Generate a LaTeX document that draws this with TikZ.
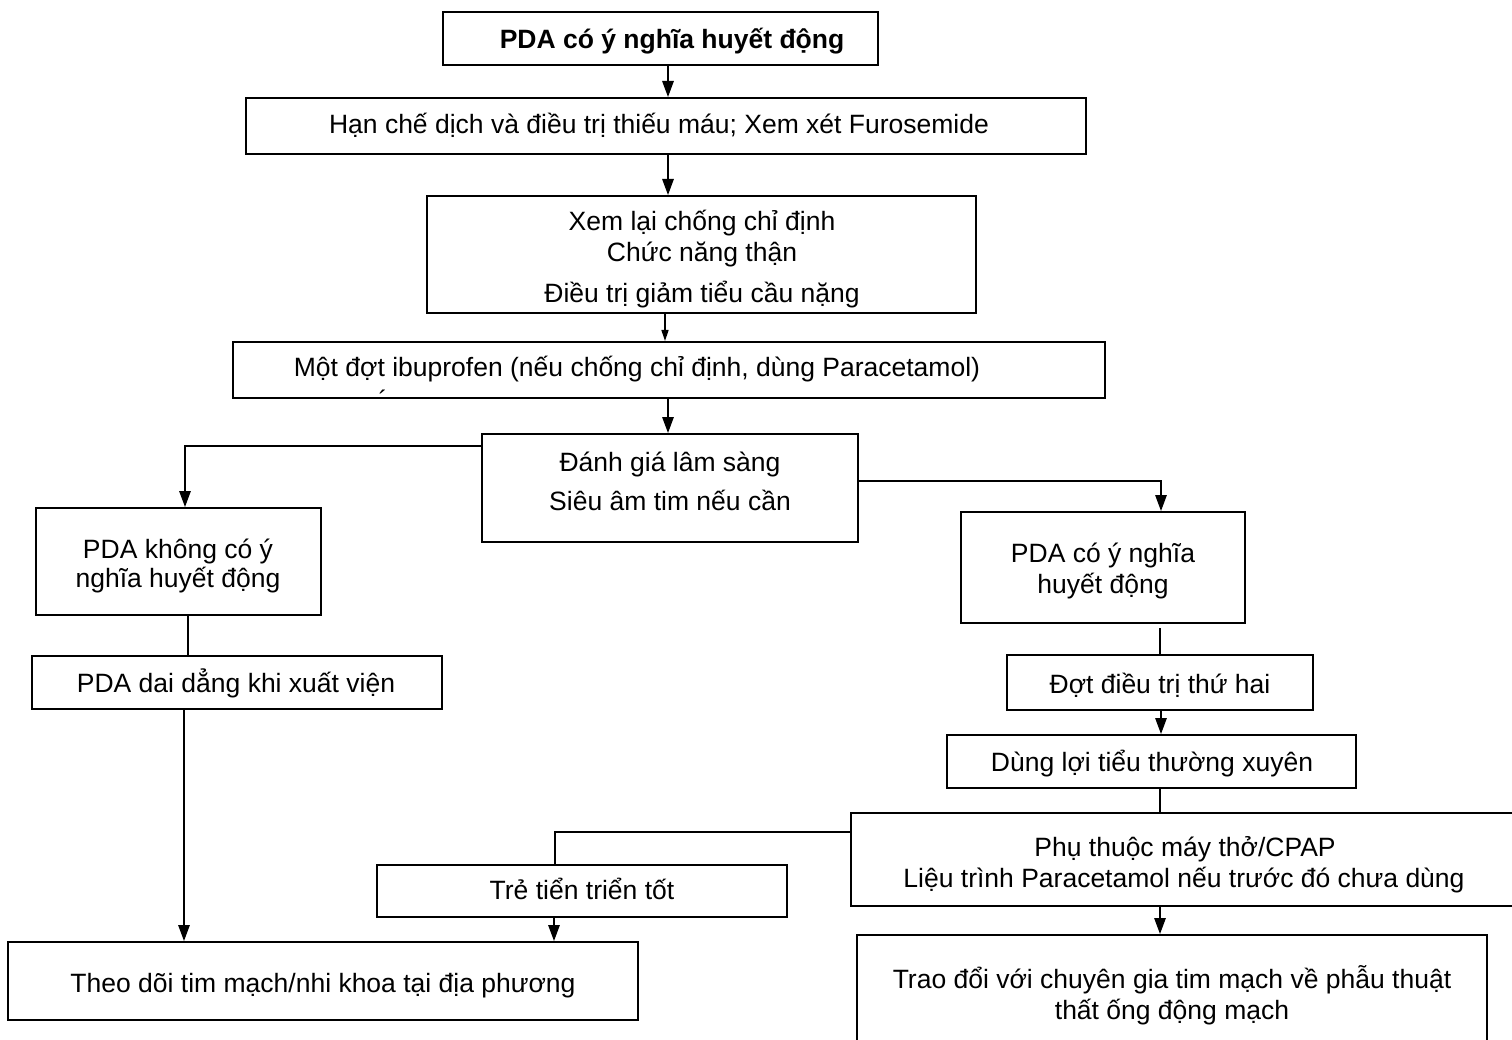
\documentclass[tikz,border=0pt]{standalone}
\usepackage{fontspec}
\setmainfont{Liberation Sans}
\usetikzlibrary{arrows.meta}
\begin{document}
\begin{tikzpicture}[x=1pt,y=-1pt,
  box/.style={draw=black, line width=2pt, inner sep=0pt},
  txt/.style={anchor=base, inner sep=0pt, font=\fontsize{26.5}{31}\selectfont},
  link/.style={line width=1.4pt},
  arr/.style={link, -{Triangle[length=16pt,width=11.5pt]}},
  arrsmall/.style={link, -{Triangle[length=11pt,width=7pt]}}]
\useasboundingbox[fill=white] (0,0) rectangle (1512,1040);

% boxes
\node[box, minimum width=435pt, minimum height=53pt]  (b1)  at (660.5,38.5) {};
\node[box, minimum width=840pt, minimum height=56pt]  (b2)  at (666,126) {};
\node[box, minimum width=549pt, minimum height=117pt] (b3)  at (701.5,254.5) {};
\node[box, minimum width=872pt, minimum height=56pt]  (b4)  at (669,370) {};
\node[box, minimum width=376pt, minimum height=108pt] (b5)  at (670,488) {};
\node[box, minimum width=285pt, minimum height=107pt] (b6)  at (178.5,561.5) {};
\node[box, minimum width=284pt, minimum height=111pt] (b7)  at (1103,567.5) {};
\node[box, minimum width=410pt, minimum height=53pt]  (b8)  at (237,682.5) {};
\node[box, minimum width=306pt, minimum height=55pt]  (b9)  at (1160,682.5) {};
\node[box, minimum width=409pt, minimum height=53pt]  (b10) at (1151.5,761.5) {};
\node[box, minimum width=679pt, minimum height=93pt]  (b11) at (1190.5,859.5) {};
\node[box, minimum width=410pt, minimum height=52pt]  (b12) at (582,891) {};
\node[box, minimum width=630pt, minimum height=78pt]  (b13) at (323,981) {};
\node[box, minimum width=630pt, minimum height=125pt] (b14) at (1172,997.5) {};

% texts
\node[txt, font=\fontsize{26.5}{31}\selectfont\bfseries] (t1) at (672,49) {PDA có ý nghĩa huyết động};
\node[txt] (t2)  at (659,134) {Hạn chế dịch và điều trị thiếu máu; Xem xét Furosemide};
\node[txt] (t3a) at (702,231) {Xem lại chống chỉ định};
\node[txt] (t3b) at (702,262) {Chức năng thận};
\node[txt] (t3c) at (702,303) {Điều trị giảm tiểu cầu nặng};
\node[txt] (t4)  at (637,377) {Một đợt ibuprofen (nếu chống chỉ định, dùng Paracetamol)};
\node[inner sep=0pt, anchor=north, font=\fontsize{26.5}{31}\selectfont] (t4acc) at (383,390) {´};
\node[txt] (t5a) at (670,471) {Đánh giá lâm sàng};
\node[txt] (t5b) at (670,510) {Siêu âm tim nếu cần};
\node[txt] (t6a) at (178,558) {PDA không có ý};
\node[txt] (t6b) at (178,587) {nghĩa huyết động};
\node[txt] (t7a) at (1103,562) {PDA có ý nghĩa};
\node[txt] (t7b) at (1103,593) {huyết động};
\node[txt] (t8)  at (236,692) {PDA dai dẳng khi xuất viện};
\node[txt] (t9)  at (1160,693) {Đợt điều trị thứ hai};
\node[txt] (t10) at (1152,771) {Dùng lợi tiểu thường xuyên};
\node[txt] (t11a) at (1185,856) {Phụ thuộc máy thở/CPAP};
\node[txt] (t11b) at (1184,887) {Liệu trình Paracetamol nếu trước đó chưa dùng};
\node[txt] (t12) at (582,899) {Trẻ tiển triển tốt};
\node[txt] (t13) at (323,992) {Theo dõi tim mạch/nhi khoa tại địa phương};
\node[txt] (t14a) at (1172,988) {Trao đổi với chuyên gia tim mạch về phẫu thuật};
\node[txt] (t14b) at (1172,1019) {thất ống động mạch};

% connector axes
\coordinate (v668) at (668,0);
\coordinate (v665) at (665,0);
\coordinate (v185) at (185,0);
\coordinate (v188) at (188,0);
\coordinate (v184) at (184,0);
\coordinate (v1161) at (1161,0);
\coordinate (v1160) at (1160,0);
\coordinate (v555) at (555,0);
\coordinate (v554) at (554,0);
\coordinate (h446) at (0,446);
\coordinate (h481) at (0,481);
\coordinate (h832) at (0,832);

% connectors
\draw[arr] (b1.south -| v668) -- (b2.north -| v668);
\draw[arr] (b2.south -| v668) -- (b3.north -| v668);
\draw[arrsmall] (b3.south -| v665) -- (b4.north -| v665);
\draw[arr] (b4.south -| v668) -- (b5.north -| v668);
\draw[arr] (b5.west |- h446) -| (b6.north -| v185);
\draw[arr] (b5.east |- h481) -| (b7.north -| v1161);
\draw[link] (b6.south -| v188) -- (b8.north -| v188);
\draw[arr] (b8.south -| v184) -- (b13.north -| v184);
\draw[link] ([yshift=-4pt]b7.south -| v1160) -- (b9.north -| v1160);
\draw[arr] (b9.south -| v1161) -- (b10.north -| v1161);
\draw[link] (b10.south -| v1160) -- (b11.north -| v1160);
\draw[link] (b11.west |- h832) -| (b12.north -| v555);
\draw[arr] (b12.south -| v554) -- (b13.north -| v554);
\draw[arr] (b11.south -| v1160) -- (b14.north -| v1160);
\end{tikzpicture}
\end{document}
